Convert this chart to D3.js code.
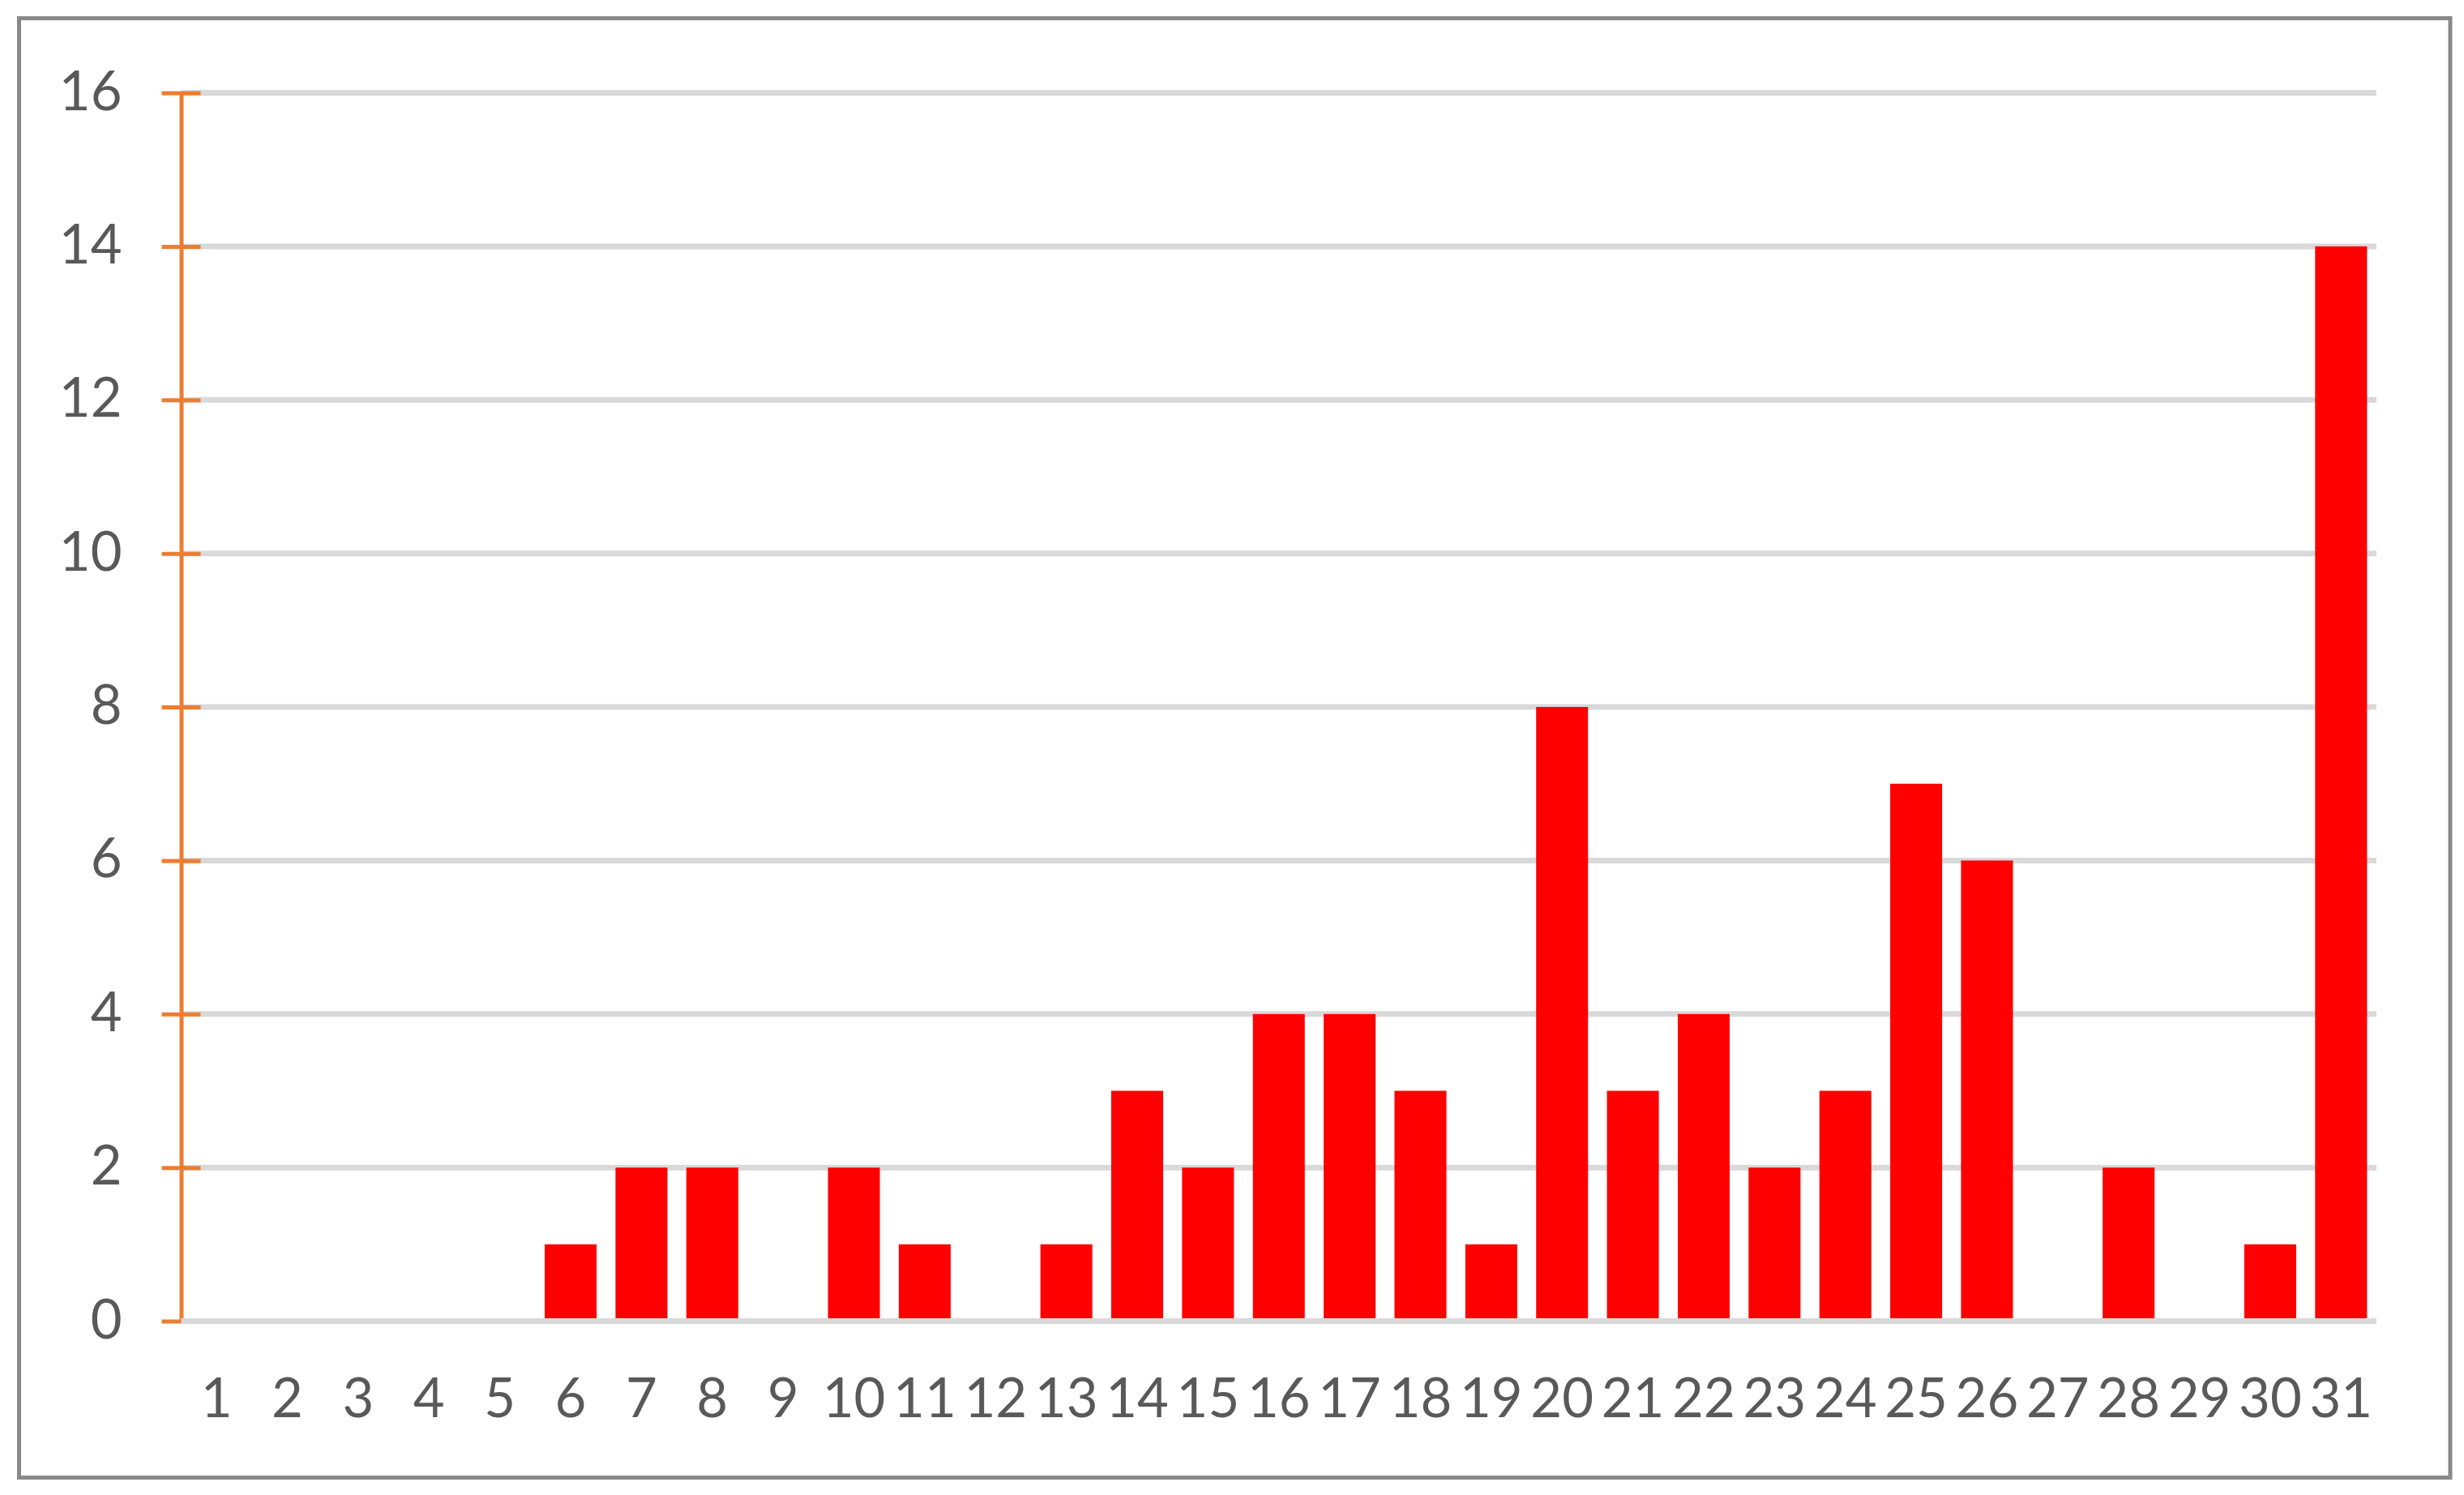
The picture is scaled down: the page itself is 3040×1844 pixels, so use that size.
<!DOCTYPE html>
<html>
<head>
<meta charset="utf-8">
<script src="https://cdn.jsdelivr.net/npm/d3@7"></script>
<style>
  html, body { margin: 0; padding: 0; background: #fff; }
  svg text { font-family: Lato, "Open Sans", sans-serif; fill: #595959; }
</style>
</head>
<body>
<svg id="chart" width="3040" height="1844"></svg>
<script>
// days of the month
const days = ["1","2","3","4","5","6","7","8","9","10","11","12","13","14","15","16",
  "17","18","19","20","21","22","23","24","25","26","27","28","29","30","31"];
// count per day
const counts = [0,0,0,0,0,1,2,2,0,2,1,0,1,3,2,4,4,3,1,8,3,4,2,3,7,6,0,2,0,1,14];
const yTicks = [0,2,4,6,8,10,12,14,16];

const width = 3040;
const height = 1844;
const margin = { top: 114.5, left: 223.5, right: 108, bottom: 214.5 };

const svg = d3.select("#chart");

// frame round the chart
svg.append("rect")
  .attr("x", 23.5).attr("y", 22.5)
  .attr("width", 2999.5).attr("height", 1800)
  .attr("fill", "none")
  .attr("stroke", "#898989")
  .attr("stroke-width", 5);

const x = d3.scaleBand()
  .domain(days)
  .range([margin.left, width - margin.right])
  .paddingInner(0.267)
  .paddingOuter(0.1335);

const y = d3.scaleLinear()
  .domain([0, 16])
  .range([height - margin.bottom, margin.top]);

// gridlines
svg.append("g")
  .selectAll("line")
  .data(yTicks.filter((d) => d > 0))
  .enter()
  .append("line")
  .attr("x1", margin.left)
  .attr("x2", width - margin.right)
  .attr("y1", (d) => y(d))
  .attr("y2", (d) => y(d))
  .attr("stroke", "#d9d9d9")
  .attr("stroke-width", 7);

// bars
svg.append("g")
  .selectAll("rect")
  .data(counts)
  .enter()
  .append("rect")
  .attr("x", (d, i) => x(days[i]))
  .attr("width", x.bandwidth())
  .attr("y", (d) => y(d))
  .attr("height", (d) => y(0) - y(d))
  .attr("fill", "#ff0000");

// y axis, orange with crossing ticks
const yAxis = (g) =>
  g
    .attr("transform", `translate(${margin.left},0)`)
    .call(d3.axisLeft(y).tickValues(yTicks).tickSize(24).tickSizeOuter(0).tickPadding(49))
    .call((g) => g.select(".domain").attr("stroke", "#ed7d31").attr("stroke-width", 5))
    .call((g) => g.selectAll(".tick line").attr("stroke", "#ed7d31").attr("stroke-width", 5).attr("x1", 24))
    .call((g) => g.selectAll(".tick text")
      .attr("font-size", 67)
      .attr("dy", null)
      .attr("y", 20.5)
      .style("fill", "#595959"));

svg.append("g").call(yAxis);

// horizontal axis line
svg.append("line")
  .attr("x1", margin.left)
  .attr("x2", width - margin.right)
  .attr("y1", y(0))
  .attr("y2", y(0))
  .attr("stroke", "#d9d9d9")
  .attr("stroke-width", 7);

// x axis labels
const xAxis = (g) =>
  g
    .attr("transform", `translate(0,${y(0)})`)
    .call(d3.axisBottom(x).tickSize(0).tickPadding(0))
    .call((g) => g.select(".domain").remove())
    .call((g) => g.selectAll(".tick text")
      .attr("font-size", 67)
      .attr("dy", null)
      .attr("y", 118.5)
      .style("fill", "#595959"));

svg.append("g").call(xAxis);
</script>
</body>
</html>
